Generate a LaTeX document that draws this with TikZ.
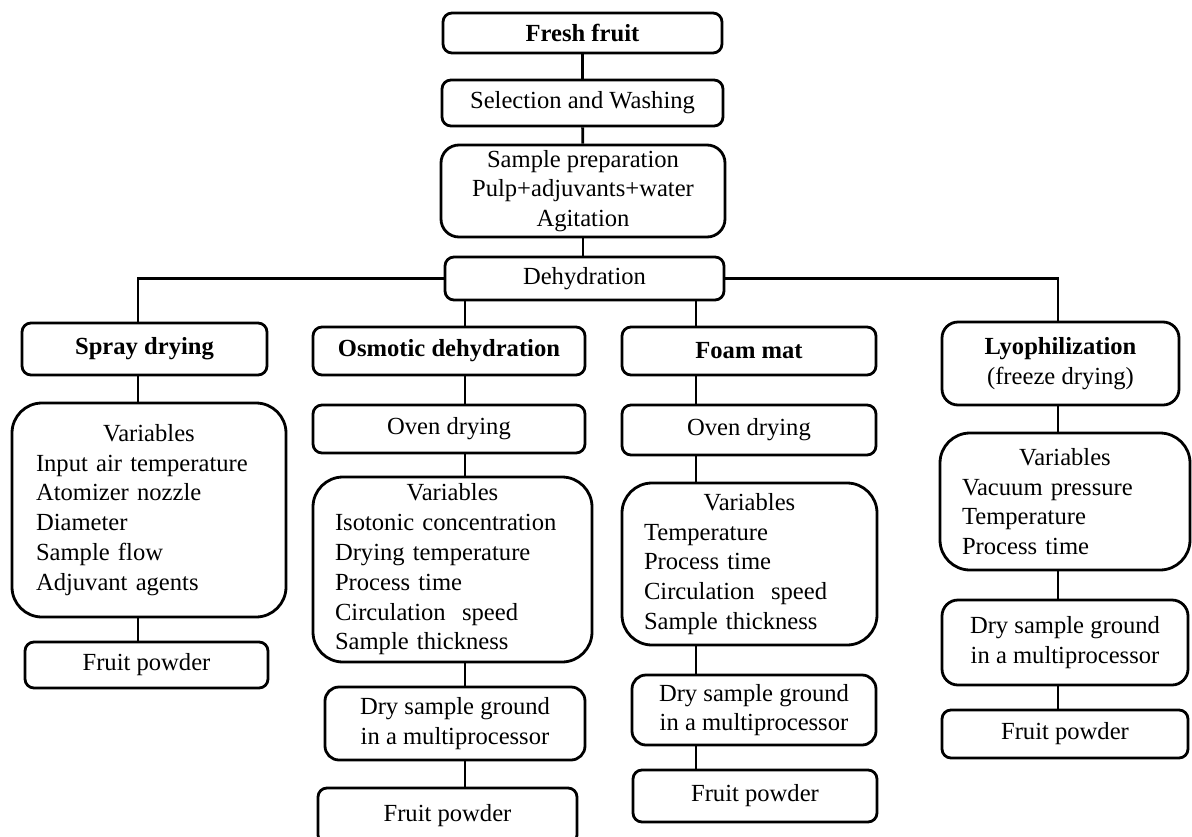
\documentclass[tikz,border=0pt]{standalone}
\usepackage{fontspec}
\setmainfont{Liberation Serif}
\begin{document}
\begin{tikzpicture}[x=1pt,y=-1pt,
  box/.style={draw, line width=2.8pt, rounded corners=9pt, align=center, inner sep=2pt,
    font=\fontsize{24.6}{29.8}\selectfont},
  varbox/.style={draw, line width=2.8pt, rounded corners=30pt, align=left, inner sep=0pt,
    font=\fontsize{24.6}{29.8}\selectfont},
  link/.style={line width=2.8pt}]
\useasboundingbox[fill=white] (0,0) rectangle (1192,836);
% columns for connectors
\coordinate (c1) at (138,0);
\coordinate (c2) at (465,0);
\coordinate (c3) at (696,0);
\coordinate (c4) at (1058,0);
% top chain
\node[box, minimum width=279pt, minimum height=40pt] (fresh) at (582.5,33) {\textbf{Fresh fruit}};
\node[box, minimum width=281pt, minimum height=46pt] (sel) at (582.5,103) {Selection and Washing};
\node[box, minimum width=284pt, minimum height=92pt, rounded corners=18pt] (prep) at (583,191) {Sample preparation\\Pulp+adjuvants+water\\Agitation};
\node[box, minimum width=279pt, minimum height=43pt] (dehyd) at (584.5,278.5) {Dehydration};
% spray drying
\node[box, minimum width=245pt, minimum height=52pt] (spray) at (144.5,349) {\textbf{Spray drying}};
\node[varbox, minimum width=274pt, minimum height=214pt, text width=226pt] (sprayvar) at (149,510)
  {\makebox[226pt]{Variables}\\Input air temperature\\Atomizer nozzle\\Diameter\\Sample flow\\Adjuvant agents};
\node[box, minimum width=243pt, minimum height=46pt] (spraypow) at (146.5,665) {Fruit powder};
% osmotic
\node[box, minimum width=272pt, minimum height=48pt] (osm) at (449,351) {\textbf{Osmotic dehydration}};
\node[box, minimum width=272pt, minimum height=48pt] (osmoven) at (449,429) {Oven drying};
\node[varbox, minimum width=279pt, minimum height=185pt, text width=235pt] (osmvar) at (452.5,569.5)
  {\makebox[235pt]{Variables}\\Isotonic concentration\\Drying temperature\\Process time\\Circulation\ \ speed\\Sample thickness};
\node[box, minimum width=260pt, minimum height=73pt, rounded corners=14pt] (osmdry) at (455,723.5) {Dry sample ground\\in a multiprocessor};
\node[box, minimum width=259pt, minimum height=56pt] (osmpow) at (447.5,816) {Fruit powder};
% foam mat
\node[box, minimum width=254pt, minimum height=48pt] (foam) at (749,351) {\textbf{Foam mat}};
\node[box, minimum width=254pt, minimum height=50pt] (foamoven) at (749,430) {Oven drying};
\node[varbox, minimum width=255pt, minimum height=162pt, text width=211pt] (foamvar) at (749.5,564)
  {\makebox[211pt]{Variables}\\Temperature\\Process time\\Circulation\ \ speed\\Sample thickness};
\node[box, minimum width=244pt, minimum height=70pt, rounded corners=14pt] (foamdry) at (754,710) {Dry sample ground\\in a multiprocessor};
\node[box, minimum width=244pt, minimum height=52pt] (foampow) at (755,796) {Fruit powder};
% lyophilization
\node[box, minimum width=237pt, minimum height=83pt, rounded corners=16pt] (lyo) at (1060.5,363.5) {\textbf{Lyophilization}\\(freeze drying)};
\node[varbox, minimum width=250pt, minimum height=137pt, text width=206pt] (lyovar) at (1065,501.5)
  {\makebox[206pt]{Variables}\\Vacuum pressure\\Temperature\\Process time};
\node[box, minimum width=246pt, minimum height=85pt, rounded corners=16pt] (lyodry) at (1065,642.5) {Dry sample ground\\in a multiprocessor};
\node[box, minimum width=246pt, minimum height=48pt] (lyopow) at (1065,734) {Fruit powder};
% connectors
\draw[link] (fresh) -- (sel);
\draw[link] (sel) -- (prep);
\draw[link] (prep) -- (dehyd.north -| prep.south);
\draw[link] (dehyd.west) -| (spray.north -| c1);
\draw[link] (dehyd.east) -| (lyo.north -| c4);
\draw[link] (dehyd.south -| c2) -- (osm.north -| c2);
\draw[link] (dehyd.south -| c3) -- (foam.north -| c3);
\draw[link] (spray.south -| c1) -- (sprayvar.north -| c1);
\draw[link] (sprayvar.south -| c1) -- (spraypow.north -| c1);
\draw[link] (osm.south -| c2) -- (osmoven.north -| c2);
\draw[link] (osmoven.south -| c2) -- (osmvar.north -| c2);
\draw[link] (osmvar.south -| c2) -- (osmdry.north -| c2);
\draw[link] (osmdry.south -| c2) -- (osmpow.north -| c2);
\draw[link] (foam.south -| c3) -- (foamoven.north -| c3);
\draw[link] (foamoven.south -| c3) -- (foamvar.north -| c3);
\draw[link] (foamvar.south -| c3) -- (foamdry.north -| c3);
\draw[link] (foamdry.south -| c3) -- (foampow.north -| c3);
\draw[link] (lyo.south -| c4) -- (lyovar.north -| c4);
\draw[link] (lyovar.south -| c4) -- (lyodry.north -| c4);
\draw[link] (lyodry.south -| c4) -- (lyopow.north -| c4);
\end{tikzpicture}
\end{document}
